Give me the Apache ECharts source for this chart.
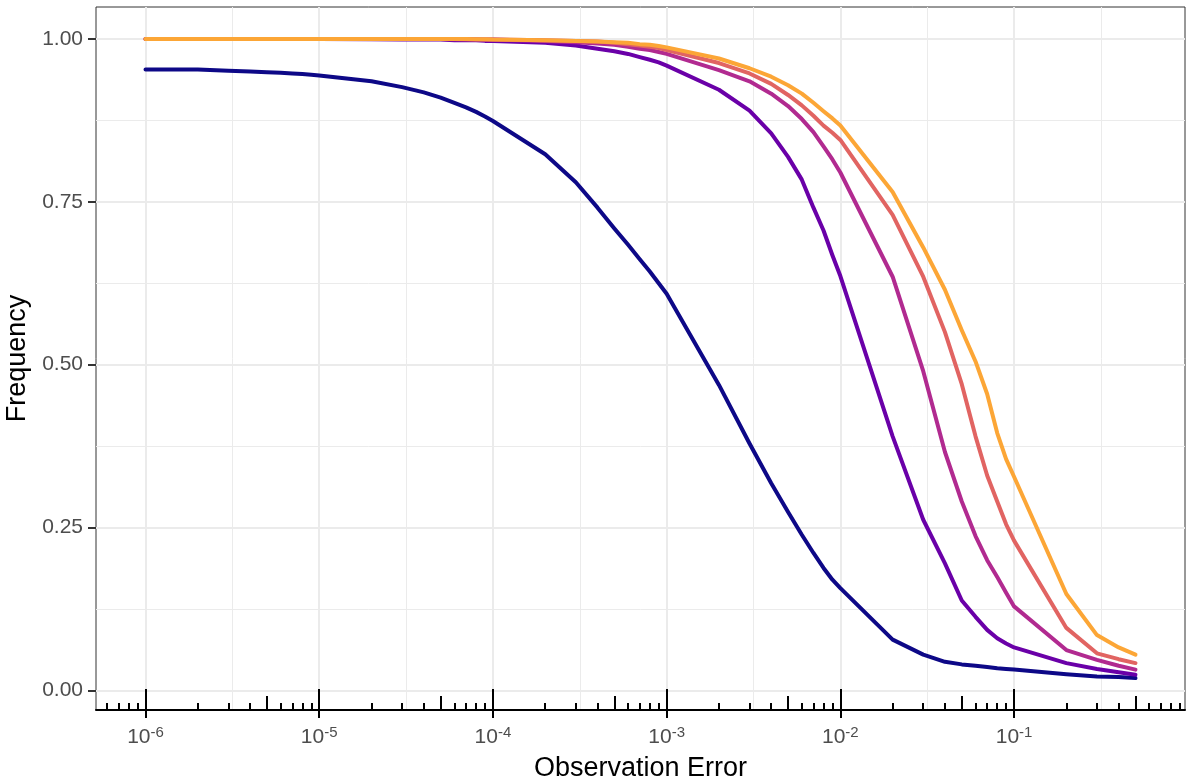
<!DOCTYPE html>
<html><head><meta charset="utf-8">
<script src="https://cdn.jsdelivr.net/npm/echarts@6/dist/echarts.min.js"></script>
<style>html,body{margin:0;padding:0;background:#fff}#c{width:1186px;height:782px}</style>
</head><body><div id="c"></div>
<script>
// ---- data ----
const errors = [
  1e-6,2e-6,3e-6,4e-6,5e-6,6e-6,7e-6,8e-6,9e-6,
  1e-5,2e-5,3e-5,4e-5,5e-5,6e-5,7e-5,8e-5,9e-5,
  1e-4,2e-4,3e-4,4e-4,5e-4,6e-4,7e-4,8e-4,9e-4,
  1e-3,2e-3,3e-3,4e-3,5e-3,6e-3,7e-3,8e-3,9e-3,
  0.01,0.02,0.03,0.04,0.05,0.06,0.07,0.08,0.09,
  0.1,0.2,0.3,0.4,0.5];
const freqNavy = [
  0.953,0.953,0.951,0.950,0.949,0.948,0.947,0.946,0.945,
  0.944,0.935,0.926,0.918,0.910,0.902,0.895,0.888,0.881,
  0.874,0.823,0.780,0.741,0.709,0.684,0.662,0.643,0.625,
  0.609,0.469,0.379,0.318,0.274,0.239,0.211,0.188,0.170,
  0.157,0.078,0.055,0.044,0.040,0.038,0.036,0.034,0.033,
  0.032,0.025,0.0215,0.0205,0.019];
const freqPurple = [
  1,1,1,1,1,1,1,1,1,
  1.000,0.9995,0.999,0.999,0.999,0.998,0.998,0.998,0.997,
  0.997,0.994,0.990,0.985,0.981,0.977,0.972,0.968,0.964,
  0.959,0.922,0.890,0.855,0.819,0.784,0.741,0.706,0.668,
  0.636,0.390,0.262,0.195,0.138,0.113,0.093,0.080,0.072,
  0.066,0.042,0.033,0.028,0.024];
const freqMagenta = [
  1,1,1,1,1,1,1,1,1,
  1,1,1,1,1,0.9995,0.9995,0.999,0.999,
  0.999,0.997,0.995,0.993,0.991,0.988,0.985,0.983,0.980,
  0.977,0.952,0.935,0.916,0.897,0.877,0.857,0.835,0.815,
  0.795,0.635,0.490,0.366,0.290,0.237,0.200,0.174,0.150,
  0.129,0.062,0.047,0.038,0.032];
const freqSalmon = [
  1,1,1,1,1,1,1,1,1,
  1,1,1,1,1,1,0.9995,0.9995,0.999,
  0.999,0.998,0.997,0.996,0.994,0.992,0.990,0.988,0.986,
  0.983,0.963,0.947,0.931,0.914,0.898,0.882,0.867,0.856,
  0.845,0.730,0.635,0.550,0.470,0.390,0.330,0.290,0.255,
  0.230,0.096,0.057,0.048,0.042];
const freqOrange = [
  1,1,1,1,1,1,1,1,1,
  1,1,1,1,1,1,1,0.9995,0.9995,
  0.999,0.998,0.997,0.996,0.995,0.994,0.992,0.991,0.989,
  0.987,0.970,0.955,0.942,0.929,0.916,0.902,0.889,0.878,
  0.867,0.765,0.680,0.615,0.553,0.505,0.455,0.395,0.355,
  0.328,0.148,0.085,0.066,0.055];
const seriesColors = ['#0D0887','#6A00A8','#B12A90','#E16462','#FCA636'];
const xMajorExponents = [-6,-5,-4,-3,-2,-1];
const yTickValues = [0, 0.25, 0.5, 0.75, 1];
const yMinorValues = [0.125, 0.375, 0.625, 0.875];

// ---- scales (log10 space, ggplot 5% expansion) ----
const X_MIN = -6.285, X_MAX = -0.016;
const Y_MIN = -0.030, Y_MAX = 1.049;
const inX = v => v >= X_MIN && v <= X_MAX;

const xMinor = xMajorExponents.map(e => e + 0.5).filter(inX);
const logLong = [], logMid = [], logShort = [];
for (let n = -7; n <= 0; n++) {
  for (let k = 1; k <= 9; k++) {
    const v = n + Math.log10(k);
    if (!inX(v)) continue;
    if (k === 1) logLong.push(v); else if (k === 5) logMid.push(v); else logShort.push(v);
  }
}

const FONT = '"Liberation Sans", Arial, sans-serif';

function xAxisBase(extra) {
  return Object.assign({
    type: 'value', gridIndex: 0, position: 'bottom', min: X_MIN, max: X_MAX,
    axisLine: { show: false, onZero: false },
    axisLabel: { show: false },
    axisTick: { show: false },
    splitLine: { show: false },
    minorTick: { show: false }, minorSplitLine: { show: false }
  }, extra);
}
function yAxisBase(extra) {
  return Object.assign({
    type: 'value', gridIndex: 0, position: 'left', min: Y_MIN, max: Y_MAX,
    axisLine: { show: false, onZero: false },
    axisLabel: { show: false },
    axisTick: { show: false },
    splitLine: { show: false }
  }, extra);
}

const xAxes = [
  xAxisBase({
    name: 'Observation Error', nameLocation: 'middle', nameGap: 45,
    nameTextStyle: { fontFamily: FONT, fontSize: 27, color: '#000' },
    axisLine: { show: true, onZero: false, lineStyle: { color: '#000', width: 2 } },
    axisTick: { show: true, inside: false, length: 8, customValues: xMajorExponents,
      lineStyle: { color: '#000', width: 2 } },
    axisLabel: { show: true, customValues: xMajorExponents, margin: 15,
      formatter: v => '{b|10}{s|' + Math.round(v) + '}',
      rich: {
        b: { fontFamily: FONT, fontSize: 21, lineHeight: 25, color: '#4D4D4D' },
        s: { fontFamily: FONT, fontSize: 15, lineHeight: 15, color: '#4D4D4D', verticalAlign: 'top' }
      } },
    splitLine: { show: true, lineStyle: { color: '#EBEBEB', width: 2 } }
  }),
  xAxisBase({
    axisTick: { show: false, customValues: xMinor },
    splitLine: { show: true, lineStyle: { color: '#EBEBEB', width: 1 } }
  }),
  xAxisBase({ axisTick: { show: true, inside: true, length: 21, customValues: logLong, lineStyle: { color: '#000', width: 2 } } }),
  xAxisBase({ axisTick: { show: true, inside: true, length: 14, customValues: logMid, lineStyle: { color: '#000', width: 2 } } }),
  xAxisBase({ axisTick: { show: true, inside: true, length: 7, customValues: logShort, lineStyle: { color: '#000', width: 2 } } })
];

const yAxes = [
  yAxisBase({
    name: 'Frequency', nameLocation: 'middle', nameGap: 55, nameRotate: 90,
    nameTextStyle: { fontFamily: FONT, fontSize: 27, color: '#000' },
    axisTick: { show: true, length: 8, customValues: yTickValues, lineStyle: { color: '#333333', width: 2 } },
    axisLabel: { show: true, customValues: yTickValues, margin: 13,
      formatter: v => v.toFixed(2), fontFamily: FONT, fontSize: 21, color: '#4D4D4D' },
    splitLine: { show: true, lineStyle: { color: '#EBEBEB', width: 2 } }
  }),
  yAxisBase({
    axisTick: { show: false, customValues: yMinorValues },
    splitLine: { show: true, lineStyle: { color: '#EBEBEB', width: 1 } }
  })
];

const seriesValues = [freqNavy, freqPurple, freqMagenta, freqSalmon, freqOrange];

const chart = echarts.init(document.getElementById('c'), null, { renderer: 'canvas' });
chart.setOption({
  animation: false,
  backgroundColor: '#ffffff',
  grid: { left: 96, right: 1, top: 7, bottom: 72, show: true, borderColor: '#333333', borderWidth: 1,
    backgroundColor: 'transparent', containLabel: false, outerBoundsMode: 'none' },
  xAxis: xAxes,
  yAxis: yAxes,
  series: seriesValues.map((vals, i) => ({
    type: 'line', xAxisIndex: 0, yAxisIndex: 0, z: 3 + i,
    showSymbol: false, symbol: 'none', silent: true,
    data: errors.map((e, j) => [Math.log10(e), vals[j]]),
    lineStyle: { color: seriesColors[i], width: 4, cap: 'round', join: 'round' },
    itemStyle: { color: seriesColors[i] }
  }))
});
</script>
</body></html>
